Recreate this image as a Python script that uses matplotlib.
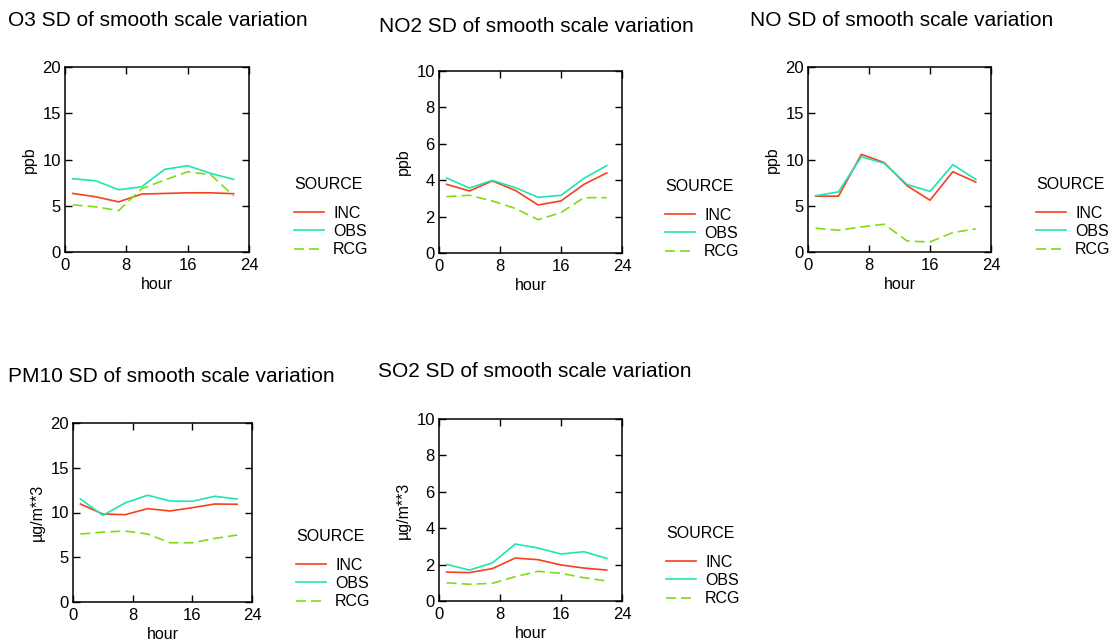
import matplotlib
matplotlib.use('Agg')
import matplotlib.pyplot as plt

plt.rcParams['font.family'] = ['Liberation Sans', 'DejaVu Sans']

W, H = 1114, 642

hours = [1, 4, 7, 10, 13, 16, 19, 22]
sources = ['INC', 'OBS', 'RCG']
colors = {'INC': '#f4411c', 'OBS': '#1ee6b0', 'RCG': '#7fdc14'}
dashes = {'INC': (None, None), 'OBS': (None, None), 'RCG': (6, 3)}

o3_inc = [6.33, 5.97, 5.42, 6.26, 6.33, 6.40, 6.40, 6.30]
o3_obs = [7.92, 7.70, 6.73, 7.05, 8.93, 9.33, 8.50, 7.85]
o3_rcg = [5.10, 4.88, 4.48, 6.84, 7.78, 8.68, 8.35, 6.08]

no2_inc = [3.77, 3.41, 3.96, 3.44, 2.64, 2.86, 3.77, 4.40]
no2_obs = [4.12, 3.57, 3.99, 3.59, 3.06, 3.17, 4.10, 4.80]
no2_rcg = [3.10, 3.17, 2.86, 2.45, 1.83, 2.22, 3.04, 3.04]

no_inc = [6.04, 6.04, 10.56, 9.66, 7.16, 5.60, 8.68, 7.56]
no_obs = [6.08, 6.50, 10.30, 9.58, 7.30, 6.55, 9.44, 7.85]
no_rcg = [2.57, 2.35, 2.71, 3.00, 1.19, 1.08, 2.10, 2.50]

pm10_inc = [10.95, 9.83, 9.76, 10.43, 10.17, 10.54, 10.95, 10.92]
pm10_obs = [11.51, 9.68, 11.07, 11.93, 11.29, 11.25, 11.81, 11.51]
pm10_rcg = [7.59, 7.81, 7.93, 7.59, 6.62, 6.62, 7.10, 7.48]

so2_inc = [1.59, 1.56, 1.78, 2.36, 2.27, 1.98, 1.81, 1.70]
so2_obs = [2.01, 1.70, 2.09, 3.13, 2.91, 2.58, 2.71, 2.34]
so2_rcg = [1.00, 0.92, 0.97, 1.34, 1.63, 1.52, 1.28, 1.10]

# name, unit, ymax, series, axes box (px), title pos (px), legend pos (px)
panels = [
    ('O3', 'ppb', 20, [o3_inc, o3_obs, o3_rcg], (65, 67, 249, 252), (8, 21), (294, 177)),
    ('NO2', 'ppb', 10, [no2_inc, no2_obs, no2_rcg], (439, 71, 622, 253), (379, 27), (665, 179)),
    ('NO', 'ppb', 20, [no_inc, no_obs, no_rcg], (808, 67, 991, 252), (750, 20), (1036, 177)),
    ('PM10', 'µg/m**3', 20, [pm10_inc, pm10_obs, pm10_rcg], (73, 423, 252, 602), (8, 377), (296, 529)),
    ('SO2', 'µg/m**3', 10, [so2_inc, so2_obs, so2_rcg], (439, 419, 622, 601), (378, 372), (666, 526)),
]

fig = plt.figure(figsize=(W / 100, H / 100), dpi=100)

for name, unit, ymax, series, box, tpos, lpos in panels:
    x0, y0, x1, y1 = box
    ax = fig.add_axes([x0 / W, 1 - y1 / H, (x1 - x0) / W, (y1 - y0) / H])
    for src, vals in zip(sources, series):
        ax.plot(hours, vals, color=colors[src], dashes=dashes[src],
                linewidth=1.2, label=src)
    ax.set_xlim(0, 24)
    ax.set_ylim(0, ymax)
    ax.set_xticks([0, 8, 16, 24])
    ax.set_yticks(range(0, ymax + 1, 5 if ymax == 20 else 2))
    ax.tick_params(direction='in', top=True, right=True, length=5,
                   labelsize=12, width=1)
    ax.tick_params(axis='x', pad=4)
    ax.tick_params(axis='y', pad=3)
    for s in ax.spines.values():
        s.set_linewidth(1.1)
    ax.set_xlabel('hour', fontsize=11.5, labelpad=3)
    ax.set_ylabel(unit, fontsize=11.5, labelpad=4)
    fig.text(tpos[0] / W, 1 - tpos[1] / H, f'{name} SD of smooth scale variation',
             fontsize=15, ha='left', va='center')
    leg = ax.legend(title='SOURCE', frameon=False, loc='upper left',
                    bbox_to_anchor=(lpos[0] / W, 1 - lpos[1] / H),
                    bbox_transform=fig.transFigure, alignment='left',
                    fontsize=11.5, title_fontsize=11.5, handlelength=1.85,
                    handletextpad=0.6, labelspacing=0.2, borderaxespad=0,
                    borderpad=0)
    leg._legend_box.sep = 10

fig.savefig('out.png', dpi=100)
